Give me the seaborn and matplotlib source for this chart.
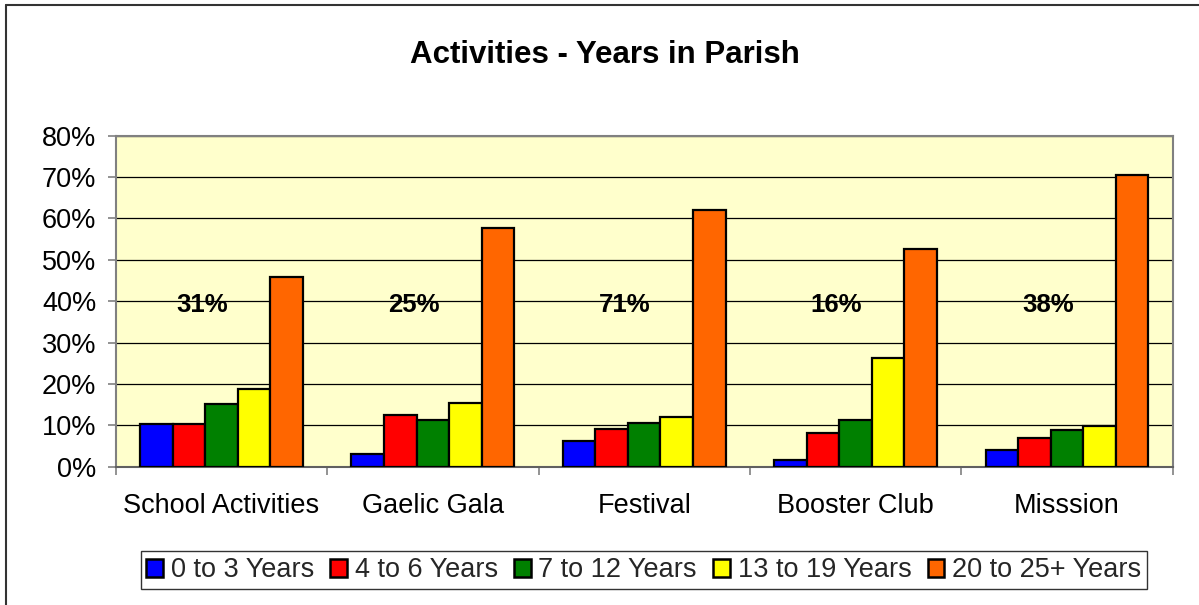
import matplotlib
matplotlib.use("Agg")
import matplotlib.pyplot as plt
import matplotlib.ticker as mticker
from matplotlib.patches import Patch
from matplotlib.lines import Line2D
import seaborn as sns
import pandas as pd

categories = ["School Activities", "Gaelic Gala", "Festival", "Booster Club", "Misssion"]
series = ["0 to 3 Years", "4 to 6 Years", "7 to 12 Years", "13 to 19 Years", "20 to 25+ Years"]
v_0_3 = [0.102, 0.031, 0.062, 0.015, 0.041]
v_4_6 = [0.102, 0.124, 0.090, 0.082, 0.069]
v_7_12 = [0.152, 0.112, 0.105, 0.114, 0.089]
v_13_19 = [0.187, 0.154, 0.121, 0.262, 0.098]
v_20_25 = [0.458, 0.577, 0.620, 0.525, 0.704]
group_labels = ["31%", "25%", "71%", "16%", "38%"]
colors = ["#0000FF", "#FF0000", "#008000", "#FFFF00", "#FF6600"]

rows = []
for s, vals in zip(series, [v_0_3, v_4_6, v_7_12, v_13_19, v_20_25]):
    for c, v in zip(categories, vals):
        rows.append({"Activity": c, "Group": s, "Share": v})
df = pd.DataFrame(rows)

sns.set_style("white")
plt.rcParams["font.family"] = ["Liberation Sans", "DejaVu Sans"]

fig = plt.figure(figsize=(11.99, 6.05), dpi=100)
ax = fig.add_axes([115.7 / 1199, 1 - 466.7 / 605, (1172.7 - 115.7) / 1199, (466.7 - 135.7) / 605])

sns.barplot(data=df, x="Activity", y="Share", hue="Group", order=categories,
            hue_order=series, palette=colors, width=0.77, edgecolor="black",
            linewidth=1.6, saturation=1, legend=False, ax=ax, zorder=3)

ax.set_facecolor("#FFFFCC")
ax.set_xlim(-0.5, len(categories) - 0.5)
ax.set_ylim(0, 0.8)
ax.yaxis.set_major_locator(mticker.MultipleLocator(0.1))
ax.yaxis.set_major_formatter(mticker.PercentFormatter(1.0, decimals=0))
ax.grid(axis="y", color="black", linewidth=0.9, zorder=0)
ax.grid(axis="x", visible=False)
ax.set_axisbelow(True)
ax.set_xlabel("")
ax.set_ylabel("")

for sp in ax.spines.values():
    sp.set_color("#808080")
    sp.set_linewidth(1.5)
ax.spines["bottom"].set_color("#606060")

ax.tick_params(axis="y", which="major", left=True, length=6, width=1.2, color="#808080",
               pad=8, labelsize=19.5, labelcolor="black")
ax.tick_params(axis="x", which="major", bottom=False, length=0, pad=19, labelsize=19.5,
               labelcolor="black")
ax.set_xticks(range(len(categories)))
ax.set_xticklabels(categories)
ax.set_xticks([i - 0.5 for i in range(len(categories) + 1)], minor=True)
ax.tick_params(axis="x", which="minor", bottom=True, length=6, width=1.2, color="#808080")

for i, lab in enumerate(group_labels):
    ax.text(i - 0.09, 0.374, lab, ha="center", va="baseline", fontsize=18.5,
            fontweight="bold", color="black", zorder=5)

fig.text(605 / 1199, 1 - 55 / 605, "Activities - Years in Parish", ha="center", va="center",
         fontsize=22.5, fontweight="bold", color="black")

handles = [Patch(facecolor=c, edgecolor="black", linewidth=1.8) for c in colors]
leg = fig.legend(handles, series, loc="center", bbox_to_anchor=(643.8 / 1199, 1 - 570.4 / 605),
                 ncol=5, frameon=True, fontsize=19.5, handlelength=0.62, handleheight=0.68,
                 handletextpad=0.28, columnspacing=0.6, borderpad=0.22, borderaxespad=0,
                 fancybox=False, shadow=False)
leg.get_frame().set_edgecolor("black")
leg.get_frame().set_linewidth(1.0)

fig.add_artist(Line2D([6 / 1199, 6 / 1199], [0, 1 - 5 / 605], transform=fig.transFigure,
                      color="#333333", linewidth=1.5))
fig.add_artist(Line2D([6 / 1199, 1], [1 - 5 / 605, 1 - 5 / 605], transform=fig.transFigure,
                      color="#333333", linewidth=1.5))

fig.savefig("out.png", dpi=100)
